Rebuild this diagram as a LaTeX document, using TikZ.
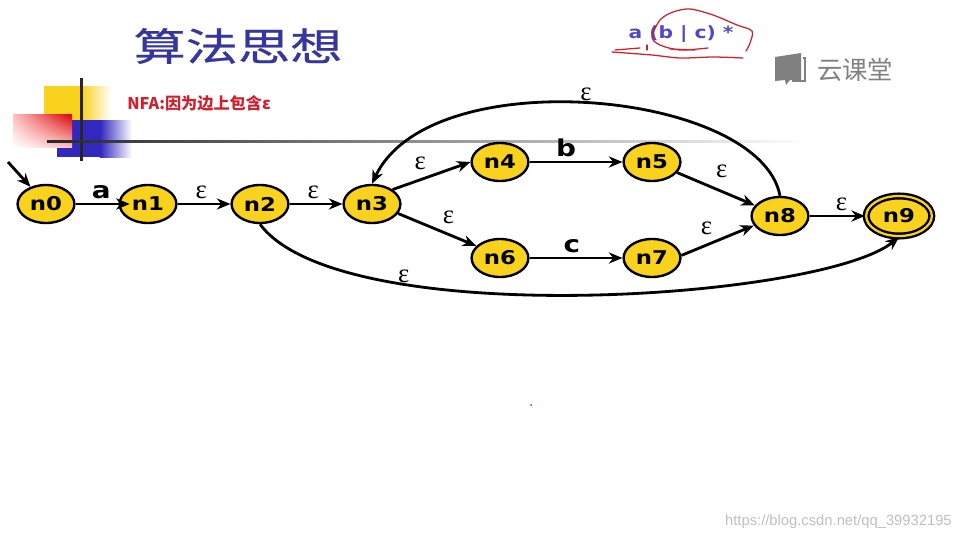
\documentclass[tikz,border=0pt]{standalone}
\usepackage{fontspec}
\usepackage{amsmath}
\usepackage{tikz}
\usetikzlibrary{arrows.meta}
\usetikzlibrary{shapes.geometric, shadings}
\newfontfamily\cjk{Noto Sans CJK SC}
\newfontfamily\titlefont[FakeStretch=1.35, FakeBold=0.6]{Noto Sans CJK SC}
\newfontfamily\statefont[FakeStretch=1.2]{DejaVu Sans}
\newfontfamily\epsfont{Liberation Serif}
\setmainfont{Liberation Sans}
\definecolor{stateyellow}{HTML}{F8D21C}
\definecolor{titleblue}{HTML}{36369C}
\definecolor{squareblue}{HTML}{3228BE}
\definecolor{inkred}{HTML}{D0202E}
\tikzset{
  state/.style={ellipse, draw=black, line width=1.7pt, fill=stateyellow, minimum width=1.42cm, minimum height=0.95cm, inner sep=0pt, font=\statefont\bfseries\fontsize{13.5}{13.5}\selectfont},
  edge/.style={-{Stealth[length=3.4mm, width=2.8mm]}, line width=2pt},
  eps/.style={font=\epsfont\fontsize{19}{19}\selectfont, inner sep=3pt},
  letter/.style={font=\statefont\bfseries\fontsize{16.5}{16.5}\selectfont, inner sep=3pt},
  ink/.style={inkred, line width=0.9pt, smooth, line cap=round}
}
\begin{document}
\begin{tikzpicture}[x=0.025cm, y=-0.025cm]
\useasboundingbox (0,0) rectangle (960,540);
% title
\node[font=\titlefont\fontsize{27.5}{27.5}\selectfont, text=titleblue] (title) at (238,46) {算法思想};
\node[font=\cjk\bfseries\fontsize{11.5}{11.5}\selectfont, text=inkred, anchor=west, inner sep=0pt] (note) at (127,103) {NFA:因为边上包含ε};
% corner squares
\fill[stateyellow] (44,86) rectangle (81,140);
\shade[left color=stateyellow, right color=white] (81,86) rectangle (111,140);
\fill[squareblue] (57,120) rectangle (100,157);
\shade[left color=squareblue, right color=white] (100,120) rectangle (132,157);
\shade[upper right=red!85!black, lower left=white, upper left=red!25, lower right=red!25] (13,114) rectangle (72,147);
\fill[black!85] (80,78) rectangle (83,161);
\shade[left color=black!85, right color=white] (47,140) rectangle (810,142.5);
% formula and pen marks
\node[font=\statefont\bfseries\fontsize{12}{12}\selectfont, text=squareblue!85] (regex) at (681,34) {a (b | c) *};
\draw[ink] plot coordinates {(708,48) (680,50) (660,45) (652,37) (660,20) (673,12) (690,9) (713,15) (737,25) (752,31) (750,43) (746,51)};
\draw[ink] plot coordinates {(612,52) (652,55) (680,58) (713,57) (743,58)};
\draw[ink] (615,50) -- (640,48);
\draw[ink] (647,45) -- (647,50);
\draw[ink] (670,49) -- (695,50);
% logo
\fill[black!50] (775,57) -- (801,53) -- (801,80) -- (790,80) -- (786,85) -- (785,80) -- (775,81) -- cycle;
\draw[black!50, line width=0.8pt] (803,58) -- (805,58) -- (805,81) -- (792,81);
\node[font=\cjk\fontsize{18}{18}\selectfont, text=black!50] (logo) at (855,70) {云课堂};
% states
\node[state] (n0) at (46,204) {n0};
\node[state] (n1) at (148,204) {n1};
\node[state] (n2) at (260,204) {n2};
\node[state] (n3) at (372,204) {n3};
\node[state] (n4) at (500,162) {n4};
\node[state] (n5) at (652,162) {n5};
\node[state] (n6) at (500,258) {n6};
\node[state] (n7) at (652,258) {n7};
\node[state] (n8) at (780,216) {n8};
\node[state, double=stateyellow, double distance=1.6pt, minimum width=1.64cm, minimum height=1cm] (n9) at (899,216) {n9};
% start arrow
\coordinate (start) at (8,162);
\draw[edge] (start) -- (n0);
% transitions
\draw[edge, shorten >=-8pt] (n0) -- (n1) node[midway, above, letter, xshift=3pt] {a};
\draw[edge] (n1) -- (n2) node[midway, above, eps, xshift=-2pt] {ε};
\draw[edge] (n2) -- (n3) node[midway, above, eps, xshift=-2pt] {ε};
\draw[edge] (n3.35) -- (n4.west) node[midway, above left, eps] {ε};
\draw[edge] (n3.-20) -- (n6.153) node[midway, above right, eps] {ε};
\draw[edge] (n4) -- (n5) node[midway, above, letter, xshift=-7pt] {b};
\draw[edge] (n6) -- (n7) node[midway, above, letter, xshift=-3pt] {c};
\draw[edge] (n5) -- (n8) node[midway, above, eps, yshift=4pt, xshift=4pt] {ε};
\draw[edge] (n7.5) -- (n8.200) node[midway, above left, eps] {ε};
\draw[edge] (n8) -- (n9) node[midway, above, eps, xshift=3pt] {ε};
% long arcs
\draw[edge] (n8.north) .. controls (760,90) and (430,60) .. (n3.north) node[pos=0.5, above, eps, inner sep=1pt, xshift=-3pt] {ε};
\draw[edge] (n2.south) .. controls (340,332) and (820,300) .. (n9.south) node[pos=0.28, above, eps, inner sep=0pt] {ε};
% speck and watermark
\fill[inkred] (531,405) circle (1);
\node[font=\fontsize{10.5}{10.5}\selectfont, text=black!25, anchor=east, inner sep=0pt] (mark) at (952,522) {https://blog.csdn.net/qq\_39932195};
\end{tikzpicture}
\end{document}
